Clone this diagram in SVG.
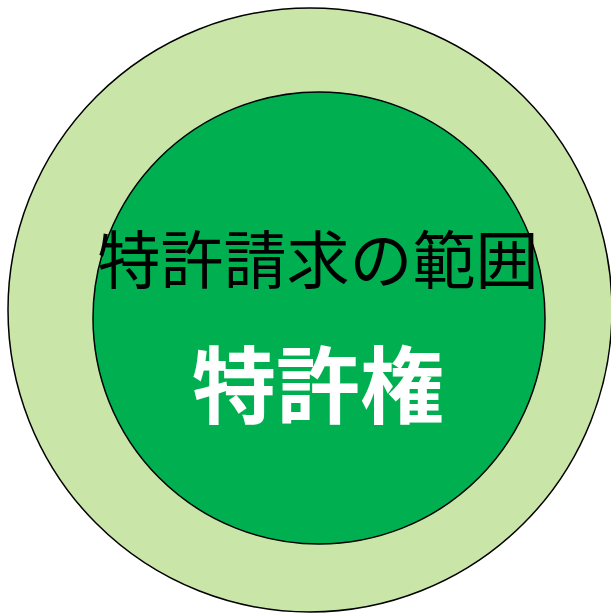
<svg xmlns="http://www.w3.org/2000/svg" width="611" height="613" viewBox="0 0 611 613">
<style>
.c{stroke:#000;stroke-width:1.5}
.t{font-family:"Noto Sans CJK JP","Noto Sans CJK SC",sans-serif;text-anchor:middle}
</style>
<rect width="611" height="613" fill="#fff"/>
<g id="outer"><circle class="c" cx="310" cy="310" r="302" fill="#c9e6a8"/></g>
<g id="inner"><circle class="c" cx="319" cy="318" r="226" fill="#00b050"/></g>
<g id="labels">
<text class="t" x="318" y="283" font-size="63" fill="#000">特許請求の範囲</text>
<text class="t" x="318" y="417" font-size="84" font-weight="bold" fill="#fff">特許権</text>
</g>
<g id="connectors"/>
</svg>
